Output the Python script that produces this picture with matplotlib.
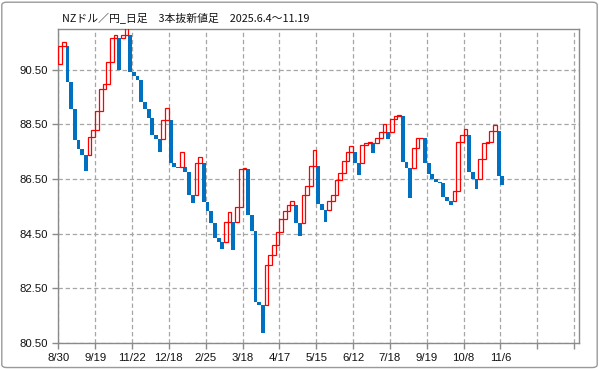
import matplotlib
matplotlib.use("Agg")
import matplotlib.pyplot as plt
from matplotlib.patches import FancyBboxPatch

# =====================================================
# DATA  (NZD/JPY daily, 3-line break)
# =====================================================
title = "NZドル／円_日足　3本抜新値足　2025.6.4〜11.19"

first_open = 90.72
closes = [
    91.36, 91.52, 90.04, 89.08, 87.94, 87.61, 87.39, 86.78, 88.05, 88.28,
    88.99, 89.80, 89.97, 90.78, 91.67, 91.77, 90.50, 91.79, 92.10, 90.41,
    90.28, 90.12, 89.33, 89.07, 88.72, 88.10, 87.95, 87.50, 88.68, 89.09,
    87.10, 86.95, 86.91, 87.48, 86.74, 85.90, 85.63, 87.07, 87.32, 85.65,
    85.34, 84.90, 84.35, 84.19, 83.93, 84.91, 85.28, 83.91, 85.46, 86.87,
    86.91, 85.18, 84.60, 82.00, 81.88, 80.86, 83.33, 83.72, 84.07, 84.54,
    85.02, 85.33, 85.54, 85.69, 84.90, 84.41, 85.91, 86.24, 86.97, 87.58,
    85.60, 85.36, 84.93, 85.70, 85.91, 86.48, 86.73, 87.15, 87.50, 87.70,
    87.07, 86.65, 87.75, 87.81, 87.84, 87.46, 87.99, 88.23, 88.50, 87.95,
    88.70, 88.82, 88.84, 87.13, 86.89, 85.82, 87.62, 87.99, 88.01, 87.07,
    86.68, 86.49, 86.40, 86.34, 85.85, 85.71, 85.54, 86.05, 87.85, 88.11,
    88.35, 86.75, 86.50, 86.14, 87.23, 87.83, 87.87, 88.26, 88.48, 86.62,
    86.29,
]

date_labels = ["8/30", "9/19", "11/22", "12/18", "2/25", "3/18", "4/17",
               "5/15", "6/12", "7/18", "9/19", "10/8", "11/6", "", ""]
y_ticks = [80.5, 82.5, 84.5, 86.5, 88.5, 90.5]

RED = "#ff0000"
BLUE = "#0070c0"
GRAY = "#8a8a8a"

# =====================================================
# BUILD LINES (open of each line from the break rule)
# =====================================================
opens = [first_open]
for i in range(1, len(closes)):
    o_prev, c_prev = opens[-1], closes[i - 1]
    up_prev = c_prev > o_prev
    c = closes[i]
    if (up_prev and c > c_prev) or (not up_prev and c < c_prev):
        opens.append(c_prev)
    else:
        opens.append(o_prev)

# =====================================================
# PLOT
# =====================================================
fig = plt.figure(figsize=(5.99, 3.69), dpi=100)
ax = fig.add_axes([0.0973, 0.0715, 0.8693, 0.85])

for i, (o, c) in enumerate(zip(opens, closes)):
    x = i + 0.5
    if c > o:
        ax.bar(x, c - o, bottom=o, width=1.0, fill=False,
               edgecolor=RED, linewidth=0.9, zorder=3)
    else:
        ax.bar(x, o - c, bottom=c, width=1.05, color=BLUE,
               linewidth=0, zorder=2)

ax.set_xlim(0, 141.3)
ax.set_ylim(80.5, 92.0)

ax.set_xticks(range(0, 141, 10))
ax.set_xticklabels(date_labels)
ax.set_yticks(y_ticks)
ax.set_yticklabels([f"{v:.2f}" for v in y_ticks])

ax.grid(True, color="#a6a6a6", linestyle=(0, (3.5, 2.2)), linewidth=0.9)
ax.set_axisbelow(True)

for s in ax.spines.values():
    s.set_color(GRAY)
    s.set_linewidth(1.0)

ax.tick_params(axis="both", colors=GRAY, length=4, width=1,
               labelcolor="#111111", labelsize=8.2)
for lab in ax.get_xticklabels() + ax.get_yticklabels():
    lab.set_family("Liberation Sans")

fig.text(0.104, 0.951, title, family=["Noto Sans CJK JP", "DejaVu Sans"],
         fontsize=7.8, va="center", ha="left", color="#111111")

fig.patches.append(FancyBboxPatch((0.003, 0.004), 0.994, 0.99,
                                  boxstyle="round,pad=0,rounding_size=0.008",
                                  transform=fig.transFigure, fill=False,
                                  edgecolor="#9a9a9a", linewidth=1.0))

fig.savefig("out.png", dpi=100)
